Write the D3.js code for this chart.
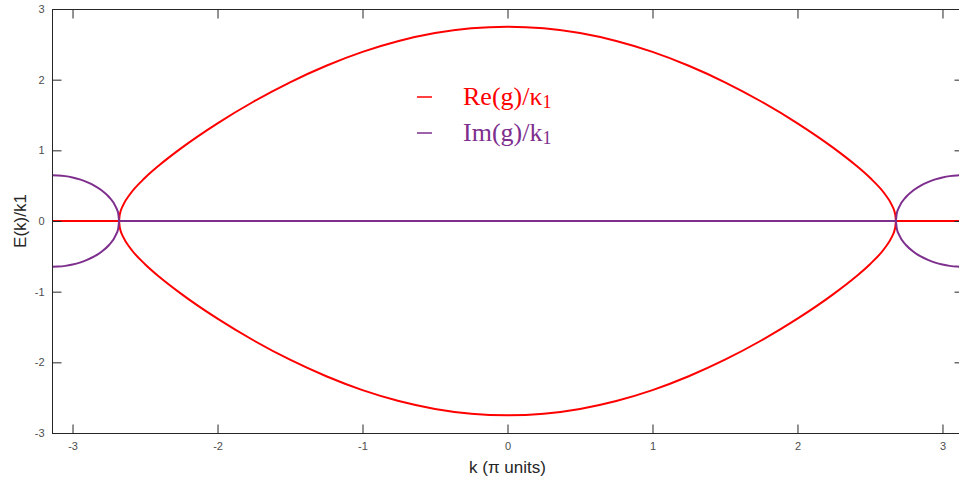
<!DOCTYPE html>
<html>
<head>
<meta charset="utf-8">
<script src="https://cdn.jsdelivr.net/npm/d3@7"></script>
<style>
  body { margin: 0; background: #fff; }
  svg { display: block; }
  .tick-label { font-family: "Liberation Sans", Arial, sans-serif; font-size: 11px; fill: #4d4d4d; }
  .axis-title { font-family: "Liberation Sans", Arial, sans-serif; font-size: 17px; fill: #262626; }
  .legend-text { font-family: "Liberation Serif", "Times New Roman", serif; font-size: 26px; }
</style>
</head>
<body>
<div id="chart"></div>
<script>

// ---------------- data ----------------

// k values inside the band (|k| < ~2.68), where E is real
const kInner = [-2.679, -2.675, -2.67, -2.65, -2.6, -2.5, -2.4, -2.25, -2.0, -1.75, -1.5, -1.25, -1.0, -0.75, -0.5, -0.25,
                0, 0.25, 0.5, 0.75, 1.0, 1.25, 1.5, 1.75, 2.0, 2.25, 2.4, 2.5, 2.6, 2.65, 2.67, 2.675, 2.679];
const reUpper = [0, 0.081, 0.126, 0.229, 0.389, 0.611, 0.792, 1.031, 1.382, 1.691, 1.963, 2.197, 2.393, 2.547, 2.659, 2.727,
                 2.75, 2.727, 2.659, 2.547, 2.393, 2.197, 1.963, 1.691, 1.382, 1.031, 0.792, 0.611, 0.389, 0.229, 0.126, 0.081, 0];
const reLower = [0, -0.081, -0.126, -0.229, -0.389, -0.611, -0.792, -1.031, -1.382, -1.691, -1.963, -2.197, -2.393, -2.547, -2.659, -2.727,
                 -2.75, -2.727, -2.659, -2.547, -2.393, -2.197, -1.963, -1.691, -1.382, -1.031, -0.792, -0.611, -0.389, -0.229, -0.126, -0.081, 0];

// k values outside the band, where E is imaginary
const kOuterLeft  = [-3.1416, -3.1, -3.05, -3.0, -2.95, -2.9, -2.85, -2.8, -2.75, -2.7, -2.685, -2.679];
const kOuterRight = [2.679, 2.685, 2.7, 2.75, 2.8, 2.85, 2.9, 2.95, 3.0, 3.05, 3.1, 3.1416];
const imLeftUpper  = [0.648, 0.645, 0.635, 0.616, 0.589, 0.551, 0.502, 0.435, 0.343, 0.193, 0.107, 0];
const imLeftLower  = [-0.648, -0.645, -0.635, -0.616, -0.589, -0.551, -0.502, -0.435, -0.343, -0.193, -0.107, 0];
const imRightUpper = [0, 0.107, 0.193, 0.343, 0.435, 0.502, 0.551, 0.589, 0.616, 0.635, 0.645, 0.648];
const imRightLower = [0, -0.107, -0.193, -0.343, -0.435, -0.502, -0.551, -0.589, -0.616, -0.635, -0.645, -0.648];

// flat (zero) parts
const kZeroRe = [[-3.1416, -2.679], [2.679, 3.1416]];
const kZeroIm = [[-2.679, 2.679]];

const xTicks = [-3, -2, -1, 0, 1, 2, 3];
const yTicks = [-3, -2, -1, 0, 1, 2, 3];

const legendLabels = [
    { name: "Re(g)/κ", sub: "1", color: "#ff0000" },
    { name: "Im(g)/k", sub: "1", color: "#7e2f8e" }
];

const reColor = "#ff0000";
const imColor = "#7e2f8e";

// ---------------- layout ----------------

const width = 959, height = 483;
const margin = { left: 52, top: 9, right: -4, bottom: 50 };

const svg = d3.select("#chart").append("svg")
    .attr("width", width)
    .attr("height", height);

const xScale = d3.scaleLinear()
    .domain([-Math.PI, Math.PI])
    .range([margin.left, width - margin.right]);

const yScale = d3.scaleLinear()
    .domain([-3, 3])
    .range([height - margin.bottom, margin.top]);

const lineFunction = d3.line()
    .curve(d3.curveMonotoneX)
    .x((d) => xScale(d[0]))
    .y((d) => yScale(d[1]));

const pairs = (ks, vs) => ks.map((k, i) => [k, vs[i]]);

// ---------------- curves ----------------

const curves = [
    { pts: pairs(kInner, reUpper), color: reColor },
    { pts: pairs(kInner, reLower), color: reColor },
    ...kZeroRe.map((r) => ({ pts: pairs(r, [0, 0]), color: reColor })),
    ...kZeroIm.map((r) => ({ pts: pairs(r, [0, 0]), color: imColor })),
    { pts: pairs(kOuterLeft, imLeftUpper), color: imColor },
    { pts: pairs(kOuterLeft, imLeftLower), color: imColor },
    { pts: pairs(kOuterRight, imRightUpper), color: imColor },
    { pts: pairs(kOuterRight, imRightLower), color: imColor }
];

svg.append("g")
    .selectAll("path")
    .data(curves)
    .enter()
    .append("path")
    .attr("fill", "none")
    .attr("stroke", (d) => d.color)
    .attr("stroke-width", 2)
    .attr("stroke-linejoin", "round")
    .attr("d", (d) => lineFunction(d.pts));

// ---------------- axes box ----------------

const x0 = xScale.range()[0], x1 = xScale.range()[1];
const y0 = yScale.range()[0], y1 = yScale.range()[1];
const axisColor = "#262626";
const tickLen = 9;
const fmt = (d) => String(d); // plain hyphen minus, as in the reference

svg.append("rect")
    .attr("x", x0 + 0.5)
    .attr("y", y1 + 0.5)
    .attr("width", x1 - x0)
    .attr("height", y0 - y1)
    .attr("fill", "none")
    .attr("stroke", axisColor)
    .attr("stroke-width", 1);

const xAxisBottom = d3.axisBottom(xScale).tickValues(xTicks).tickFormat(fmt).tickSizeInner(-tickLen).tickSizeOuter(0).tickPadding(9);
const xAxisTop = d3.axisTop(xScale).tickValues(xTicks).tickSizeInner(-tickLen).tickSizeOuter(0).tickFormat("");
const yAxisLeft = d3.axisLeft(yScale).tickValues(yTicks).tickFormat(fmt).tickSizeInner(-tickLen).tickSizeOuter(0).tickPadding(8);
const yAxisRight = d3.axisRight(yScale).tickValues(yTicks).tickSizeInner(-tickLen).tickSizeOuter(0).tickFormat("");

function styleAxis(g) {
    g.select(".domain").remove();
    g.selectAll(".tick line").attr("stroke", axisColor);
    g.selectAll(".tick text").attr("class", "tick-label").attr("font-family", null).attr("font-size", null).attr("fill", null);
}

svg.append("g").attr("transform", `translate(0,${y0 + 0.5})`).call(xAxisBottom).call(styleAxis);
svg.append("g").attr("transform", `translate(0,${y1 + 0.5})`).call(xAxisTop).call(styleAxis);
svg.append("g").attr("transform", `translate(${x0 + 0.5},0)`).call(yAxisLeft).call(styleAxis);
svg.append("g").attr("transform", `translate(${x1 + 0.5},0)`).call(yAxisRight).call(styleAxis);

// axis titles
svg.append("text")
    .attr("class", "axis-title")
    .attr("x", xScale(0))
    .attr("y", 473)
    .attr("text-anchor", "middle")
    .text("k (π units)");

svg.append("text")
    .attr("class", "axis-title")
    .attr("transform", `translate(26,${yScale(0)}) rotate(-90)`)
    .attr("text-anchor", "middle")
    .text("E(k)/k1");

// ---------------- legend ----------------

const legend = svg.append("g").attr("transform", "translate(417,105)");

legend.selectAll("g")
    .data(legendLabels)
    .enter()
    .each(function(d, i) {
        const g = d3.select(this).append("g").attr("transform", `translate(0,${i * 36})`);
        g.append("line")
            .attr("x1", 0).attr("x2", 15)
            .attr("y1", -8).attr("y2", -8)
            .attr("stroke", d.color)
            .attr("stroke-width", 1.5);
        const t = g.append("text")
            .attr("class", "legend-text")
            .attr("x", 46)
            .attr("y", 0)
            .attr("fill", d.color);
        t.append("tspan").text(d.name);
        t.append("tspan").attr("dy", 3).attr("font-size", "18px").text(d.sub);
    });

</script>
</body>
</html>
